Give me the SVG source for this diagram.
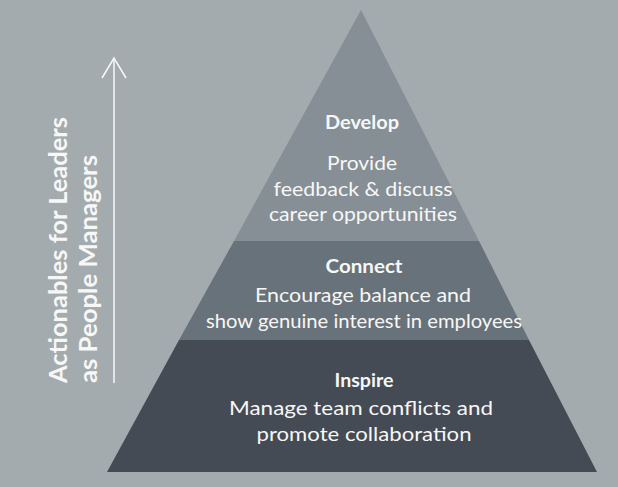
<svg xmlns="http://www.w3.org/2000/svg" width="618" height="487" viewBox="0 0 618 487">
<style>
.t{font-family:Lato,"Noto Sans","Liberation Sans",sans-serif;fill:#f7f7f7;text-anchor:middle;font-size:19px}
.b{font-weight:bold;font-size:18px}
.side{font-family:Lato,"Noto Sans","Liberation Sans",sans-serif;fill:#f7f7f7;font-weight:bold;font-size:25px}
</style>
<rect width="618" height="487" fill="#a4abae"/>
<g id="develop">
<polygon points="361,10 479,241 234,241" fill="#868f95"/>
<text class="t b" x="362" y="129" textLength="74" lengthAdjust="spacingAndGlyphs">Develop</text>
<text class="t" x="362" y="170" textLength="70" lengthAdjust="spacingAndGlyphs">Provide</text>
<text class="t" x="363" y="196" textLength="179" lengthAdjust="spacingAndGlyphs">feedback &amp; discuss</text>
<text class="t" x="363" y="221" textLength="188" lengthAdjust="spacingAndGlyphs">career opportunities</text>
</g>
<g id="connect">
<polygon points="234,241 479,241 529,340 179,340" fill="#68727a"/>
<text class="t b" x="364" y="273" textLength="77" lengthAdjust="spacingAndGlyphs">Connect</text>
<text class="t" x="363" y="302" textLength="216" lengthAdjust="spacingAndGlyphs">Encourage balance and</text>
<text class="t" x="364" y="328" textLength="316" lengthAdjust="spacingAndGlyphs">show genuine interest in employees</text>
</g>
<g id="inspire">
<polygon points="179,340 529,340 597,472 107,472" fill="#444b54"/>
<text class="t b" x="364" y="387" textLength="59" lengthAdjust="spacingAndGlyphs">Inspire</text>
<text class="t" x="361" y="415" textLength="264" lengthAdjust="spacingAndGlyphs">Manage team conflicts and</text>
<text class="t" x="364" y="441" textLength="215" lengthAdjust="spacingAndGlyphs">promote collaboration</text>
</g>
<g id="axis-label">
<text class="side" transform="translate(67,383) rotate(-90)" textLength="266" lengthAdjust="spacingAndGlyphs">Actionables for Leaders</text>
<text class="side" transform="translate(97,383) rotate(-90)" textLength="228" lengthAdjust="spacingAndGlyphs">as People Managers</text>
</g>
<g id="connectors" fill="none" stroke="#f7f7f7" stroke-width="1.5">
<line x1="114" y1="383" x2="114" y2="58"/>
<polyline points="102,78 114,58 126,78"/>
</g>
</svg>
